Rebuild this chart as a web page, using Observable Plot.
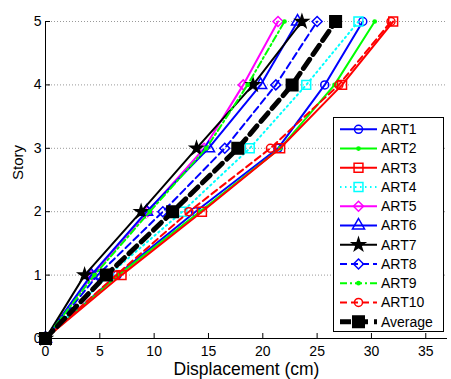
<!DOCTYPE html>
<html><head><meta charset="utf-8">
<script src="https://cdn.jsdelivr.net/npm/d3@7"></script>
<script src="https://cdn.jsdelivr.net/npm/@observablehq/plot@0.6"></script>
<style>body{margin:0;background:#fff;}</style>
</head><body><div id="chart"></div>
<script>
const stories = [0, 1, 2, 3, 4, 5];
const ART1 = [0, 6.6, 13.8, 21.4, 25.7, 29.2];
const ART2 = [0, 6.7, 14.2, 21.6, 26.6, 30.3];
const ART3 = [0, 7.0, 14.4, 21.6, 27.3, 32.0];
const ART4 = [0, 5.8, 12.6, 18.8, 24.0, 28.8];
const ART5 = [0, 4.3, 9.4, 14.6, 18.2, 21.4];
const ART6 = [0, 4.2, 9.3, 15.0, 19.8, 23.2];
const ART7 = [0, 3.6, 8.8, 13.9, 19.1, 23.6];
const ART8 = [0, 4.8, 10.8, 16.5, 21.2, 25.0];
const ART9 = [0, 4.5, 9.6, 14.8, 18.6, 22.0];
const ART10 = [0, 6.5, 13.2, 20.7, 27.0, 31.8];
const Average = [0, 5.6, 11.7, 17.7, 22.7, 26.7];
const seriesNames = ["ART1","ART2","ART3","ART4","ART5","ART6","ART7","ART8","ART9","ART10","Average"];
const seriesValues = [ART1, ART2, ART3, ART4, ART5, ART6, ART7, ART8, ART9, ART10, Average];
const xTicks = [0, 5, 10, 15, 20, 25, 30, 35];
const yTicks = [0, 1, 2, 3, 4, 5];

// styles (separate from data)
const styles = [
  {c:"#0000ff", w:2, dash:null, sym:"circle", r:4, fill:"none"},
  {c:"#00ff00", w:2, dash:null, sym:"circle", r:1.6, fill:"#00ff00"},
  {c:"#ff0000", w:2, dash:null, sym:"square", r:5, fill:"none"},
  {c:"#00ffff", w:2, dash:"1.5,3.5", sym:"square", r:5, fill:"none"},
  {c:"#ff00ff", w:2, dash:null, sym:"diamond2", r:4.5, fill:"none"},
  {c:"#0000ff", w:2, dash:null, sym:"triangle", r:4.5, fill:"none"},
  {c:"#000000", w:2, dash:null, sym:"star", r:4, fill:"#000000"},
  {c:"#0000ff", w:2, dash:"7,4", sym:"diamond2", r:4.5, fill:"none"},
  {c:"#00ff00", w:2, dash:"7,3,2,3", sym:"circle", r:1.6, fill:"#00ff00"},
  {c:"#ff0000", w:2, dash:"7,4", sym:"circle", r:4, fill:"none"},
  {c:"#000000", w:5, dash:"11,6", sym:"square", r:6.5, fill:"#000000"}
];

const font = "'Liberation Sans', Arial, sans-serif";
const fmt = d3.format("d");
const marks = [
  Plot.gridY(yTicks.slice(1), {stroke:"#999", strokeOpacity:1, strokeDasharray:"1,2"}),
  Plot.axisX({ticks:xTicks, tickSize:0, tickPadding:8, tickFormat:fmt, label:null, fontSize:14}),
  Plot.axisX({ticks:xTicks, tickSize:-5, tickFormat:() => "", label:null}),
  Plot.axisY({ticks:yTicks, tickSize:0, tickPadding:4, tickFormat:fmt, label:null, fontSize:14}),
  Plot.axisY({ticks:yTicks, tickSize:-5, tickFormat:() => "", label:null}),
  Plot.ruleX([0], {stroke:"#000"}),
  Plot.ruleY([0], {stroke:"#000"}),
  Plot.text(["Displacement (cm)"], {frameAnchor:"bottom", lineAnchor:"middle", dy:31, fontSize:17.5, fill:"#000"}),
  Plot.text(["Story"], {frameAnchor:"left", lineAnchor:"middle", rotate:-90, dx:-27, fontSize:15, fill:"#000"})
];
seriesNames.forEach((name, k) => {
  const rows = stories.map((s, i) => ({series:name, x:seriesValues[k][i], y:s}));
  const st = styles[k];
  marks.push(Plot.line(rows, {x:"x", y:"y", stroke:st.c, strokeWidth:st.w, strokeDasharray:st.dash}));
  marks.push(Plot.dot(rows, {x:"x", y:"y", symbol:st.sym, r:st.r, stroke:st.c, fill:st.fill, strokeWidth:1.5}));
});

const plot = Plot.plot({
  width:451, height:379,
  marginLeft:45, marginRight:4, marginTop:21, marginBottom:41,
  style:{fontFamily:font, fontSize:"14px", background:"#fff", color:"#000"},
  x:{domain:[0,37]},
  y:{domain:[0,5]},
  marks
});
document.getElementById("chart").appendChild(plot);

// legend
const svg = d3.select(plot);
const lg = svg.append("g");
lg.append("rect").attr("x",333.5).attr("y",117.5).attr("width",110).attr("height",214)
  .attr("fill","#fff").attr("stroke","#000");
const sym = {circle:d3.symbolCircle, square:d3.symbolSquare, diamond2:d3.symbolDiamond2, triangle:d3.symbolTriangle, star:d3.symbolStar};
seriesNames.forEach((name, k) => {
  const st = styles[k];
  const y = 129.3 + k*19.24;
  lg.append("line").attr("x1",340).attr("x2",377).attr("y1",y).attr("y2",y)
    .attr("stroke",st.c).attr("stroke-width",st.w).attr("stroke-dasharray",st.dash);
  lg.append("path").attr("transform",`translate(358.5,${y})`)
    .attr("d", d3.symbol(sym[st.sym], Math.PI*st.r*st.r)())
    .attr("stroke",st.c).attr("fill",st.fill).attr("stroke-width",1.5);
  lg.append("text").attr("x",381).attr("y",y).attr("dy","0.35em")
    .attr("text-anchor","start")
    .attr("font-size",14).attr("font-family",font).attr("fill","#000").text(name);
});
</script>
</body></html>
